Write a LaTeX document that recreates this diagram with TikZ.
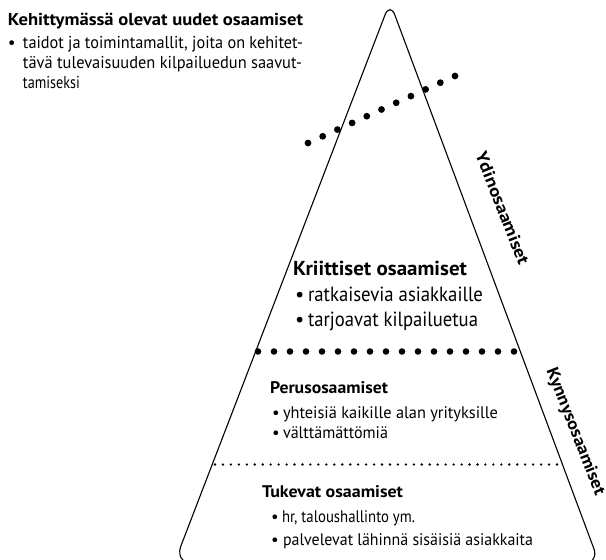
\documentclass[tikz,border=0pt]{standalone}
\usepackage{fontspec}
\usepackage{graphicx}
\setmainfont{PT Sans}
\usetikzlibrary{calc}

% set a line of text to a given width, keeping its height
\newcommand\linewd[2]{\resizebox{#1pt}{\height}{#2}}

\begin{document}
\begin{tikzpicture}[x=1pt,y=-1pt,
  txt/.style={anchor=base west, inner sep=0pt, outer sep=0pt,
              font=\fontsize{16.8}{20}\selectfont},
  bold/.style={txt, font=\fontsize{16.8}{20}\selectfont\bfseries},
  notetxt/.style={txt, font=\fontsize{17.2}{20}\selectfont},
  notebold/.style={txt, font=\fontsize{17.2}{20}\selectfont\bfseries},
  bigtxt/.style={txt, font=\fontsize{20.5}{23}\selectfont},
  bigbold/.style={txt, font=\fontsize{20.2}{23}\selectfont\bfseries},
  side/.style={anchor=center, inner sep=0pt, rotate=-68.5,
               font=\fontsize{17}{20}\selectfont\bfseries},
  leg/.style={draw=black, line width=1.1pt, line cap=round, line join=round},
  bigdot/.style={fill=black},
  smalldot/.style={fill=black}]

\useasboundingbox (0,0) rectangle (606,560);

% pyramid outline: two legs with a rounded apex and small hooks at the foot
\draw[leg] (183,560) .. controls (179.5,557) and (179,552) .. (180.5,547)
  -- (384.97,15.06) .. controls (387.75,7.85) and (392.19,7.88) .. (394.89,15.12)
  -- (594,549) .. controls (595.5,553) and (595,557) .. (592.5,560);

% emerging competences: slanted row of dots
\coordinate (d1) at (308,143);
\coordinate (d2) at (455,76);
\foreach \i in {0,...,10}
  \fill[bigdot] ($(d1)!\i/10!(d2)$) circle (3.4pt);

% border between core and threshold competences
\coordinate (b1) at (258,351.5);
\coordinate (b2) at (514,351.5);
\foreach \i in {0,...,16}
  \fill[bigdot] ($(b1)!\i/16!(b2)$) circle (3.3pt);

% border between basic and supporting competences
\coordinate (s1) at (215,464.5);
\coordinate (s2) at (557,464.5);
\foreach \i in {0,...,43}
  \fill[smalldot] ($(s1)!\i/43!(s2)$) circle (1.3pt);

% top-left note
\node[notebold] (emtitle) at (8,25) {\linewd{295}{Kehittymässä olevat uudet osaamiset}};
\node[notetxt] (embul) at (8,48) {\textbullet};
\node[notetxt] (em1) at (23,48) {\linewd{280}{taidot ja toimintamallit, joita on kehitet-}};
\node[notetxt] (em2) at (23,68) {\linewd{279}{tävä tulevaisuuden kilpailuedun saavut-}};
\node[notetxt] (em3) at (23,88) {\linewd{57}{tamiseksi}};

% critical competences
\node[bigbold] (krtitle) at (293,275) {\linewd{174}{Kriittiset osaamiset}};
\node[bigtxt] (krbul1) at (295,301.5) {\textbullet};
\node[bigtxt] (kr1) at (308,301.5) {\linewd{175}{ratkaisevia asiakkaille}};
\node[bigtxt] (krbul2) at (295,326.5) {\textbullet};
\node[bigtxt] (kr2) at (308,326.5) {\linewd{170}{tarjoavat kilpailuetua}};

% basic competences
\node[bold] (petitle) at (270,393) {\linewd{118}{Perusosaamiset}};
\node[txt] (pebul1) at (272,418) {\textbullet};
\node[txt] (pe1) at (283,418) {\linewd{215}{yhteisiä kaikille alan yrityksille}};
\node[txt] (pebul2) at (272,438) {\textbullet};
\node[txt] (pe2) at (283,438) {\linewd{105}{välttämättömiä}};

% supporting competences
\node[bold] (tutitle) at (262,497) {\linewd{141}{Tukevat osaamiset}};
\node[txt] (tubul1) at (271,522) {\textbullet};
\node[txt] (tu1) at (282,522) {\linewd{133}{hr, taloushallinto ym.}};
\node[txt] (tubul2) at (271,545) {\textbullet};
\node[txt] (tu2) at (283,545) {\linewd{250}{palvelevat lähinnä sisäisiä asiakkaita}};

% labels along the right leg
\node[side] (ydin) at (502.5,208) {\linewd{120}{Ydinosaamiset}};
\node[side] (kynnys) at (575,432) {\linewd{135}{Kynnysosaamiset}};

\end{tikzpicture}
\end{document}
